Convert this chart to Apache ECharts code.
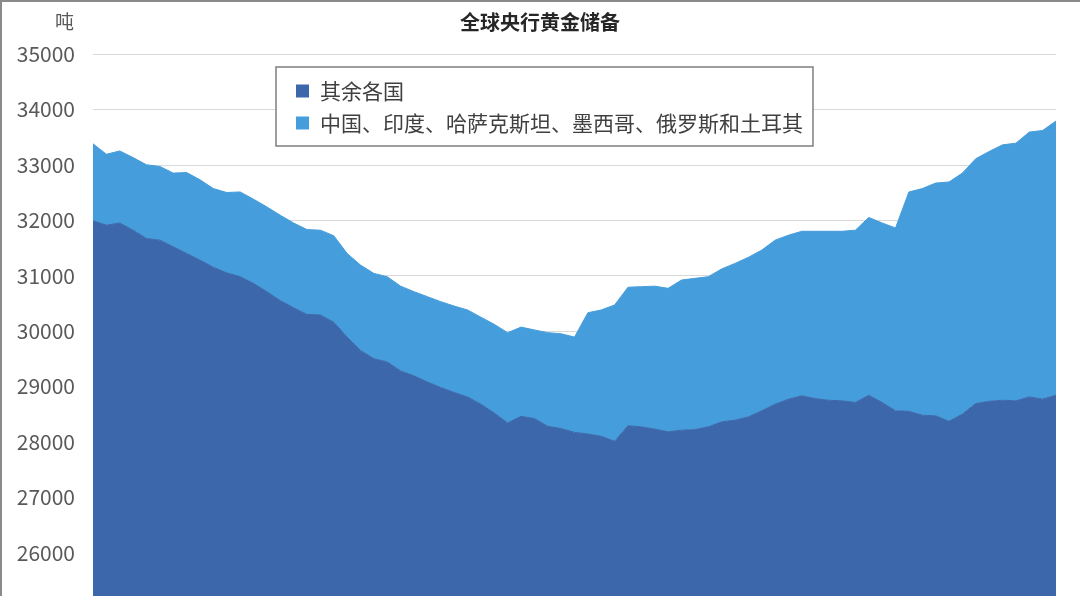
<!DOCTYPE html>
<html>
<head>
    <meta charset="utf-8">
    <title>全球央行黄金储备</title>
    <script src="https://cdn.jsdelivr.net/npm/echarts@6/dist/echarts.min.js"></script>
</head>
<style>
    html,
    body {
        margin: 0;
        padding: 0;
        background: #fff;
        overflow: hidden;
    }
    .frame {
        position: relative;
        width: 1080px;
        height: 596px;
        box-sizing: border-box;
        border-top: 2px solid #8a8a8a;
        border-left: 2px solid #8a8a8a;
    }
    .my-chart {
        position: absolute;
        left: -2px;
        top: -2px;
        width: 1080px;
        height: 596px;
    }
</style>
<body>
<div class="frame">
    <div class="my-chart"></div>
</div>
<script type="text/javascript">
    var seriesNames = ['其余各国', '中国、印度、哈萨克斯坦、墨西哥、俄罗斯和土耳其'];

    // 其余各国（吨）
    var restValues = [
        31990, 31910, 31950, 31820, 31670, 31640, 31520, 31400, 31280, 31150,
        31050, 30980, 30860, 30710, 30550, 30420, 30300, 30290, 30160, 29890,
        29650, 29500, 29440, 29280, 29190, 29080, 28980, 28890, 28810, 28680,
        28520, 28340, 28460, 28420, 28280, 28240, 28170, 28140, 28100, 28010,
        28290, 28270, 28230, 28180, 28210, 28220, 28270, 28360, 28390, 28450,
        28560, 28680, 28770, 28830, 28780, 28750, 28740, 28710, 28840, 28710,
        28560, 28550, 28480, 28470, 28370, 28500, 28690, 28730, 28750, 28740,
        28810, 28770, 28840
    ];

    // 中国、印度、哈萨克斯坦、墨西哥、俄罗斯和土耳其（吨）
    var groupValues = [
        1390, 1280, 1300, 1310, 1330, 1330, 1330, 1460, 1450, 1420,
        1450, 1530, 1520, 1530, 1540, 1530, 1530, 1530, 1560, 1510,
        1540, 1540, 1540, 1530, 1520, 1540, 1550, 1560, 1570, 1570,
        1600, 1630, 1610, 1600, 1690, 1710, 1720, 2190, 2280, 2460,
        2500, 2530, 2580, 2590, 2710, 2730, 2710, 2760, 2830, 2880,
        2900, 2960, 2960, 2970, 3020, 3050, 3060, 3110, 3210, 3240,
        3300, 3960, 4090, 4200, 4320, 4350, 4420, 4510, 4610, 4650,
        4780, 4850, 4950
    ];

    var categories = restValues.map(function (v, i) { return String(i + 1); });

    var colors = ['#3c67aa', '#469ddc'];
    var fontFamily = '"Noto Sans CJK SC", "Noto Sans", sans-serif';

    var myChart = echarts.init(document.querySelector('.my-chart'));
    var option = {
        animation: false,
        color: colors,
        textStyle: {fontFamily: fontFamily},
        title: [
            {
                text: '全球央行黄金储备',
                left: 'center',
                top: 7,
                textStyle: {fontSize: 20, fontWeight: 'bold', color: '#262626', fontFamily: fontFamily}
            },
            {
                text: '吨',
                left: 50,
                top: 7,
                textStyle: {fontSize: 19, fontWeight: 'normal', color: '#595959', fontFamily: fontFamily}
            }
        ],
        legend: {
            orient: 'vertical',
            left: 276,
            top: 67,
            padding: [12, 10, 11, 20],
            itemGap: 8,
            itemWidth: 13,
            itemHeight: 13,
            icon: 'rect',
            borderColor: '#7f7f7f',
            borderWidth: 1.5,
            backgroundColor: '#fff',
            textStyle: {
                fontSize: 21,
                lineHeight: 24,
                color: '#404040',
                padding: [0, 0, 0, 6],
                fontFamily: fontFamily
            },
            data: seriesNames
        },
        grid: {
            left: 93,
            top: 54,
            width: 963,
            height: 554,
            containLabel: false,
            outerBoundsMode: 'none'
        },
        xAxis: {
            type: 'category',
            boundaryGap: false,
            data: categories,
            axisLine: {show: false},
            axisTick: {show: false},
            axisLabel: {show: false}
        },
        yAxis: {
            type: 'value',
            min: 25000,
            max: 35000,
            interval: 1000,
            axisLine: {show: false},
            axisTick: {show: false},
            axisLabel: {
                margin: 18,
                fontSize: 21,
                color: '#595959',
                fontFamily: fontFamily,
                formatter: function (v) { return String(v); }
            },
            splitLine: {lineStyle: {color: '#d9d9d9', width: 1}}
        },
        series: [
            {
                name: seriesNames[0],
                type: 'line',
                stack: 'total',
                data: restValues,
                showSymbol: false,
                lineStyle: {width: 1, color: colors[0]},
                areaStyle: {color: colors[0], opacity: 1}
            },
            {
                name: seriesNames[1],
                type: 'line',
                stack: 'total',
                data: groupValues,
                showSymbol: false,
                lineStyle: {width: 1, color: colors[1]},
                areaStyle: {color: colors[1], opacity: 1}
            }
        ]
    };
    myChart.setOption(option);
</script>
</body>
</html>
